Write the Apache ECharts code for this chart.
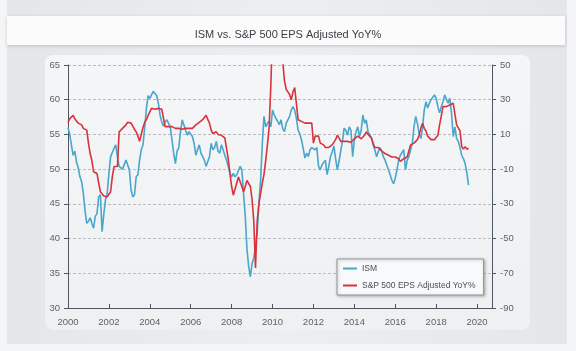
<!DOCTYPE html>
<html>
<head>
<meta charset="utf-8">
<script src="https://cdn.jsdelivr.net/npm/echarts@6/dist/echarts.min.js"></script>
<style>
  html, body { margin: 0; padding: 0; background: #f4f5f6; }
  #chart { width: 576px; height: 351px; }
</style>
</head>
<body>
<div id="chart"></div>
<script>
var dom = document.getElementById("chart");
var myChart = echarts.init(dom);

var startYear = 2000; // monthly points from Jan 2000
var ismColor = "#4aa6cb";
var epsColor = "#d8323e";

// ISM manufacturing index (left axis)
var ism = [
    56.0, 55.0, 53.5, 52.0, 52.6, 51.0, 50.2, 48.9, 48.2, 46.5, 44.0, 42.2,  // 2000
    42.5, 43.0, 42.2, 41.5, 43.2, 43.6, 46.0, 46.3, 41.0, 43.5, 45.6, 46.5,  // 2001
    49.4, 51.8, 52.4, 53.0, 53.5, 51.8, 50.4, 50.6, 50.0, 49.9, 51.3, 51.5,  // 2002
    49.9, 47.0, 46.0, 46.3, 48.9, 49.2, 51.3, 52.8, 53.5, 56.0, 58.8, 60.6,  // 2003
    60.2, 60.4, 61.2, 61.3, 60.6, 59.5, 57.8, 56.8, 56.2, 56.8, 57.1, 56.6,  // 2004
    56.1, 54.2, 52.3, 50.8, 52.6, 53.1, 55.4, 57.1, 56.9, 55.6, 54.9, 55.4,  // 2005
    55.4, 54.7, 53.7, 52.0, 52.8, 53.5, 52.3, 51.8, 51.3, 50.4, 50.6, 51.8,  // 2006
    53.7, 52.8, 53.1, 54.0, 52.6, 52.3, 53.5, 52.8, 52.0, 51.3, 50.4, 49.4,  // 2007
    48.9, 49.4, 48.9, 49.2, 49.2, 50.4, 49.9, 46.5, 43.2, 38.5, 36.0, 34.5,  // 2008
    36.4, 37.2, 37.4, 40.8, 45.1, 48.4, 53.7, 57.6, 56.1, 56.6, 56.9, 56.1,  // 2009
    58.5, 57.8, 57.3, 56.9, 56.4, 57.1, 55.8, 55.4, 56.6, 57.1, 57.6, 58.5,  // 2010
    59.0, 58.5, 57.3, 55.6, 55.1, 54.2, 53.0, 51.6, 52.3, 51.8, 52.8, 53.1,  // 2011
    53.3, 52.8, 53.1, 50.4, 49.9, 50.6, 50.4, 51.3, 49.2, 50.4, 51.8, 52.5,  // 2012
    53.3, 51.5, 49.9, 51.1, 52.6, 54.0, 55.9, 55.6, 54.9, 56.1, 55.6, 51.8,  // 2013
    54.2, 55.4, 56.1, 54.7, 55.6, 57.8, 56.6, 57.1, 55.4, 55.4, 54.5, 53.5,  // 2014
    52.8, 51.8, 52.0, 53.1, 52.6, 51.8, 51.3, 50.6, 49.9, 49.2, 48.4, 47.9,  // 2015
    48.7, 49.9, 51.3, 52.0, 51.8, 52.8, 49.9, 51.3, 51.8, 52.8, 53.7, 56.1,  // 2016
    57.6, 56.6, 55.1, 54.4, 55.9, 58.5, 59.7, 58.8, 59.5, 60.0, 60.2, 60.7,  // 2017
    60.2, 59.0, 58.1, 59.0, 59.7, 60.7, 60.9, 59.5, 60.2, 58.1, 54.7, 56.1,  // 2018
    54.4, 54.0, 53.1, 52.0, 51.5, 50.8, 49.5, 47.7                           // 2019
];

// S&P 500 EPS adjusted YoY % (right axis)
var epsYoY = [
    17, 19, 20, 21, 19, 18, 16.5, 16, 15.5, 13.5, 13, 12.5,                  // 2000
    5, -1, -5, -11.5, -12, -12.5, -18, -23, -24, -25.5, -26.5, -26,          // 2001
    -25, -23, -14.5, -8.5, -7.5, -8.5, 11.5, 12.5, 13.5, 14.5, 15.5, 17,     // 2002
    17, 16.5, 15.5, 13, 11.5, 9, 6, 5.5, 14, 17, 18.5, 21,                   // 2003
    23, 25, 26, 24.5, 24, 25, 25, 24.5, 25, 14.5, 13.5, 14.5,                // 2004
    15, 14.5, 14, 13.5, 13, 13.5, 13, 13, 13.5, 13.5, 13.5, 13.5,            // 2005
    13.5, 13.5, 14.5, 15.5, 16.5, 17, 18, 18.5, 19.5, 21, 21, 16.5,          // 2006
    12.5, 10.5, 11, 11.5, 10, 9, 9.5, 9.5, 8, 2, -4, -12.5,                  // 2007
    -20, -25, -26, -18, -14.5, -14.5, -20, -23, -20, -16.5, -17, -20,        // 2008
    -27.5, -40, -67, -40, -30, -24, -18, -13, -5, 4, 14, 38,                 // 2009
    70, 85, 95, 90, 75, 60, 52, 41, 36, 34.5, 33, 30,                        // 2010
    34.5, 37, 36, 18.5, 17.5, 17.5, 17.5, 16.5, 16.5, 16.5, 16.5, 16.5,      // 2011
    5, 9, 10, 9, 5, 4.5, 4, 2.5, 2.5, 2.5, 3.5, 4,                           // 2012
    5, 7, 9.5, 8, 6, 6, 6, 6, 6, 6, 5.5, 6,                                  // 2013
    7.5, 8, 9, 8, 7.5, 8.5, 9.5, 11.5, 10, 9.5, 8, 5,                        // 2014
    2.5, 3, 2.5, 1.5, 0.5, 0, -1, -1.5, -2, -2.5, -3, -3,                    // 2015
    -3, -3.5, -4, -5.5, -6.5, -4, -3.5, -3, 0.5, 4, 5, 5,                    // 2016
    5, 7, 9.5, 13.5, 16.5, 13.5, 12, 9, 8, 7, 7, 7,                          // 2017
    7, 9.5, 15.5, 20.5, 26, 26, 26, 27, 27, 27.5, 28, 28,                    // 2018
    15.5, 15, 12, 3, 1.5, 3, 1.5, 2                                          // 2019
];

function toPoints(values) {
    var pts = [];
    for (var i = 0; i < values.length; i++) {
        pts.push([startYear + i / 12, values[i]]);
    }
    return pts;
}

var labelFont = "'Liberation Sans', Arial, sans-serif";

var option = {
    backgroundColor: '#f4f5f6',
    animation: false,
    graphic: [
        {
            type: 'rect', silent: true, z: -10,
            shape: { x: 7, y: 0, width: 560, height: 344 },
            style: {
                fill: new echarts.graphic.LinearGradient(0, 0, 1, 0, [
                    { offset: 0, color: '#e4e6e9' },
                    { offset: 0.5, color: '#eceef0' },
                    { offset: 1, color: '#e4e6e9' }
                ])
            }
        },
        {
            type: 'rect', silent: true, z: -9,
            shape: { x: 7, y: 16, width: 558, height: 29 },
            style: { fill: '#fbfbfc', shadowColor: 'rgba(0,0,0,0.18)', shadowBlur: 3, shadowOffsetY: 1 }
        },
        {
            type: 'rect', silent: true, z: -9,
            shape: { x: 45, y: 55, width: 485, height: 275, r: 8 },
            style: {
                fill: new echarts.graphic.LinearGradient(0, 0, 0, 1, [
                    { offset: 0, color: '#f5f6f7' },
                    { offset: 1, color: '#eef0f2' }
                ])
            }
        }
    ],
    title: {
        text: 'ISM vs. S&P 500 EPS Adjusted YoY%',
        left: 'center',
        top: 24,
        textStyle: {
            color: '#3a3f45',
            fontSize: 11,
            fontWeight: 'normal',
            fontFamily: labelFont
        }
    },
    legend: {
        orient: 'vertical',
        left: 337,
        top: 259,
        padding: [5, 8, 5, 6],
        itemGap: 8,
        itemWidth: 14,
        itemHeight: 2,
        icon: 'rect',
        backgroundColor: '#f8f9fa',
        borderColor: '#8f959c',
        borderWidth: 1,
        shadowColor: 'rgba(0,0,0,0.25)',
        shadowBlur: 3,
        shadowOffsetX: 1,
        shadowOffsetY: 1,
        textStyle: { color: '#4a4f55', fontSize: 8.5, fontFamily: labelFont },
        data: ['ISM', 'S&P 500 EPS Adjusted YoY%']
    },
    grid: {
        left: 68,
        right: 84,
        top: 65,
        bottom: 43
    },
    xAxis: {
        type: 'value',
        min: 2000,
        max: 2020.73,
        interval: 2,
        splitLine: { show: false },
        axisLine: { onZero: false, lineStyle: { color: '#4d5763', width: 1 } },
        axisTick: { inside: true, length: 4, lineStyle: { color: '#4d5763' } },
        axisLabel: {
            color: '#5d636b',
            fontSize: 9.5,
            fontFamily: labelFont,
            margin: 9,
            formatter: function (v) { return v % 1 === 0 ? String(v) : ''; }
        }
    },
    yAxis: [
        {
            type: 'value',
            min: 30,
            max: 65,
            interval: 5,
            position: 'left',
            axisLine: { show: true, onZero: false, lineStyle: { color: '#4d5763', width: 1 } },
            axisTick: { show: true, length: 4, lineStyle: { color: '#4d5763' } },
            axisLabel: { color: '#5d636b', fontSize: 9.5, fontFamily: labelFont, margin: 8 },
            splitLine: { show: true, lineStyle: { color: '#b9bdc3', type: [3, 2], width: 1 } }
        },
        {
            type: 'value',
            min: -90,
            max: 50,
            interval: 20,
            position: 'right',
            axisLine: { show: true, onZero: false, lineStyle: { color: '#4d5763', width: 1 } },
            axisTick: { show: true, length: 4, lineStyle: { color: '#4d5763' } },
            axisLabel: { color: '#5d636b', fontSize: 9.5, fontFamily: labelFont, margin: 8 },
            splitLine: { show: false }
        }
    ],
    series: [
        {
            name: 'ISM',
            type: 'line',
            yAxisIndex: 0,
            data: toPoints(ism),
            showSymbol: false,
            symbol: 'none',
            lineStyle: { color: ismColor, width: 1.6 },
            itemStyle: { color: ismColor }
        },
        {
            name: 'S&P 500 EPS Adjusted YoY%',
            type: 'line',
            yAxisIndex: 1,
            data: toPoints(epsYoY),
            showSymbol: false,
            symbol: 'none',
            lineStyle: { color: epsColor, width: 1.6 },
            itemStyle: { color: epsColor }
        }
    ]
};
myChart.setOption(option);
</script>
</body>
</html>
